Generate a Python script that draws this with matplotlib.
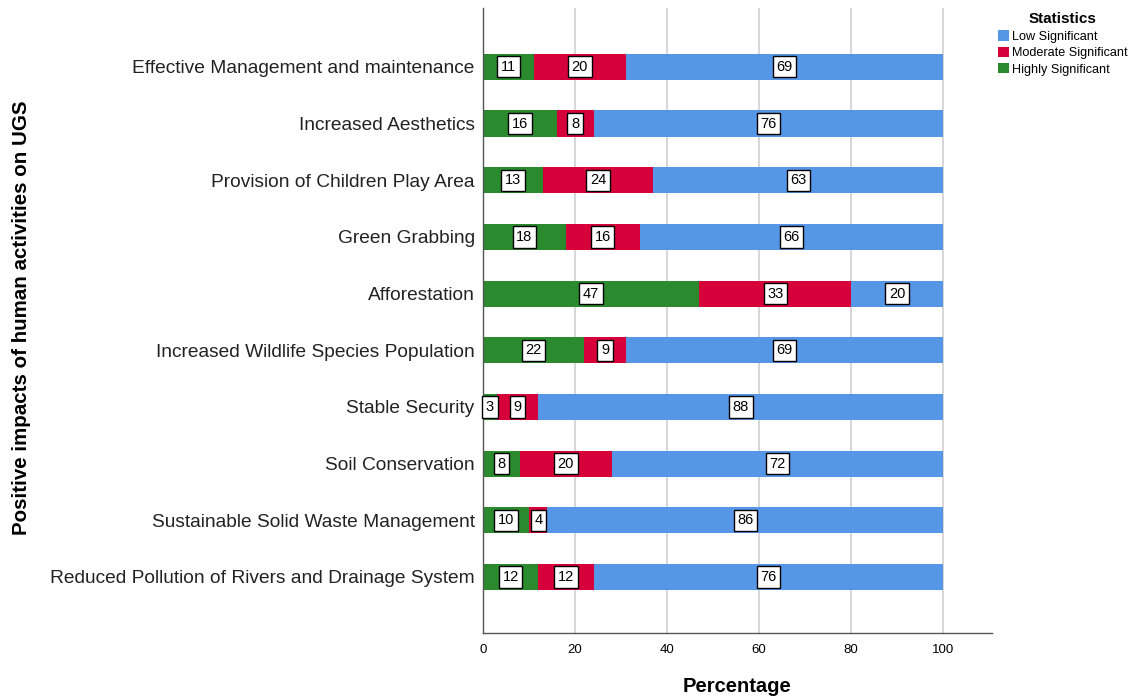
import numpy as np
import matplotlib.pyplot as plt

plt.rcParams['font.family'] = ['Liberation Sans', 'DejaVu Sans']

# Data (percentages), top to bottom as shown
categories = [
    'Effective Management and maintenance',
    'Increased Aesthetics',
    'Provision of Children Play Area',
    'Green Grabbing',
    'Afforestation',
    'Increased Wildlife Species Population',
    'Stable Security',
    'Soil Conservation',
    'Sustainable Solid Waste Management',
    'Reduced Pollution of Rivers and Drainage System',
]
highly = [11, 16, 13, 18, 47, 22, 3, 8, 10, 12]
moderate = [20, 8, 24, 16, 33, 9, 9, 20, 4, 12]
low = [69, 76, 63, 66, 20, 69, 88, 72, 86, 76]

series_names = ['Low Significant', 'Moderate Significant', 'Highly Significant']
colors = {'Low Significant': '#5596e6',
          'Moderate Significant': '#d6003a',
          'Highly Significant': '#2b8a2e'}

fig = plt.figure(figsize=(11.42, 7.0), dpi=100)
ax = fig.add_axes([0.423, 0.0957, 0.4457, 0.893])

y = np.arange(len(categories))
left = np.zeros(len(categories))
bars = {}
for name, vals in [('Highly Significant', highly),
                   ('Moderate Significant', moderate),
                   ('Low Significant', low)]:
    vals = np.array(vals, dtype=float)
    bars[name] = ax.barh(y, vals, left=left, height=0.46,
                         color=colors[name], zorder=2)
    for yi, l, v in zip(y, left, vals):
        ax.text(l + v / 2, yi, f'{int(v)}', ha='center', va='center',
                fontsize=10.5, zorder=3,
                bbox=dict(boxstyle='square,pad=0.25', fc='white',
                          ec='black', lw=1.0))
    left = left + vals

ax.set_yticks(y)
ax.set_yticklabels(categories, fontsize=13.8, color='#222222')
ax.set_ylim(9.99, -1.04)
ax.set_xlim(0, 110.6)
ax.set_xticks([0, 20, 40, 60, 80, 100])
ax.tick_params(axis='both', length=0)
ax.tick_params(axis='x', labelsize=9.5, pad=8)
ax.tick_params(axis='y', pad=6)
ax.grid(axis='x', color='#d0d0d0', lw=1.2, zorder=0)
ax.set_axisbelow(True)

for s in ['top', 'right']:
    ax.spines[s].set_visible(False)
for s in ['left', 'bottom']:
    ax.spines[s].set_color('#555555')
    ax.spines[s].set_linewidth(1.0)

fig.text(0.6455, 1 - 687 / 700, 'Percentage', ha='center', va='center',
         fontsize=14.5, fontweight='bold')
fig.text(0.019, 0.546, 'Positive impacts of human activities on UGS',
         rotation=90, ha='center', va='center', fontsize=14.8,
         fontweight='bold')

handles = [bars[n] for n in series_names]
leg = fig.legend(handles, series_names, loc='upper left',
                 bbox_to_anchor=(0.866, 0.995), frameon=False,
                 fontsize=9.1, title='Statistics',
                 title_fontproperties={'weight': 'bold', 'size': 11},
                 handlelength=0.9, handleheight=0.9, handletextpad=0.25,
                 labelspacing=0.3, borderpad=0.2)

fig.savefig('out.png', dpi=100)
